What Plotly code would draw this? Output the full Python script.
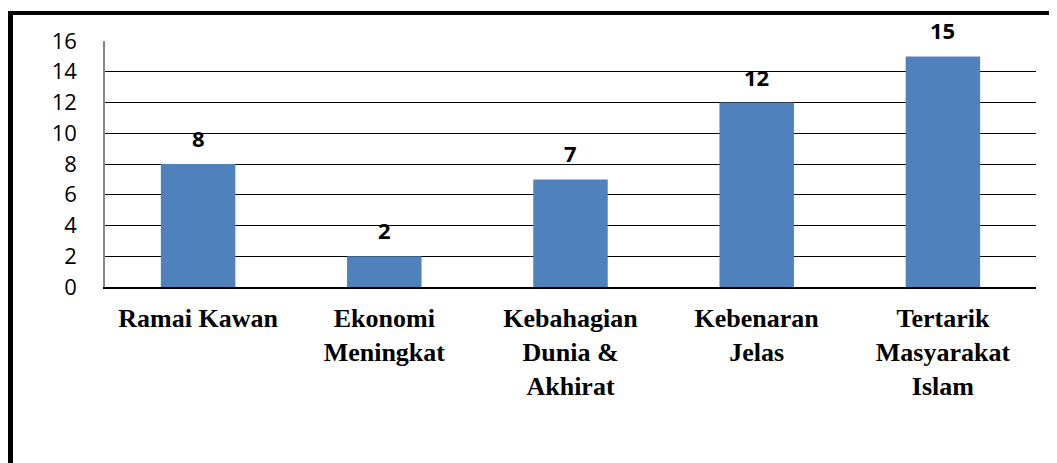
import plotly.graph_objects as go

categories = ['Ramai Kawan', 'Ekonomi<br>Meningkat', 'Kebahagian<br>Dunia &amp;<br>Akhirat',
              'Kebenaran<br>Jelas', 'Tertarik<br>Masyarakat<br>Islam']
values = [8, 2, 7, 12, 15]
y_ticks = [0, 2, 4, 6, 8, 10, 12, 14, 16]

# the page keeps the browser's 8px body margin, so size the figure to fit
OFF = 8
W, H = 1057 - OFF, 463 - OFF
ML, MR, MT, MB = 105 - OFF, 21, 41 - OFF, 176
pw, ph = W - ML - MR, H - MT - MB


def px(x):
    return (x - OFF - ML) / pw


def py(y):
    return (H - MB - (y - OFF)) / ph


fig = go.Figure(go.Bar(
    x=list(range(len(values))),
    y=values,
    width=0.4,
    marker=dict(color='#4F81BD', line=dict(width=0)),
    hoverinfo='skip',
))

for i, v in enumerate(values):
    fig.add_annotation(x=i, y=v, text=f'<b>{v}</b>', showarrow=False,
                       yshift=26, font=dict(family='Open Sans', size=22, color='black'))

fig.update_layout(
    width=W, height=H,
    margin=dict(l=ML, r=MR, t=MT, b=MB),
    paper_bgcolor='white',
    plot_bgcolor='white',
    showlegend=False,
    xaxis=dict(
        tickmode='array',
        tickvals=list(range(len(categories))),
        ticktext=[f'<b>{c}</b>' for c in categories],
        range=[-0.5, len(values) - 0.5],
        tickfont=dict(family='Liberation Serif', size=26, color='black'),
        showgrid=False,
        showline=True, linecolor='black', linewidth=1.5,
        ticks='', ticklabelstandoff=7,
        zeroline=False,
    ),
    yaxis=dict(
        range=[0, 16],
        tickmode='array',
        tickvals=y_ticks,
        tickfont=dict(family='Open Sans', size=22, color='black'),
        showgrid=True, gridcolor='black', gridwidth=1,
        showline=True, linecolor='#888888', linewidth=1.5,
        ticks='', ticklabelstandoff=22,
        zeroline=False,
    ),
    shapes=[
        dict(type='line', xref='paper', yref='paper',
             x0=px(10.5), x1=px(10.5), y0=py(11), y1=py(470),
             line=dict(color='black', width=5)),
        dict(type='line', xref='paper', yref='paper',
             x0=px(8), x1=px(1065), y0=py(13), y1=py(13),
             line=dict(color='black', width=4)),
    ],
)

fig.write_html('out.html')
